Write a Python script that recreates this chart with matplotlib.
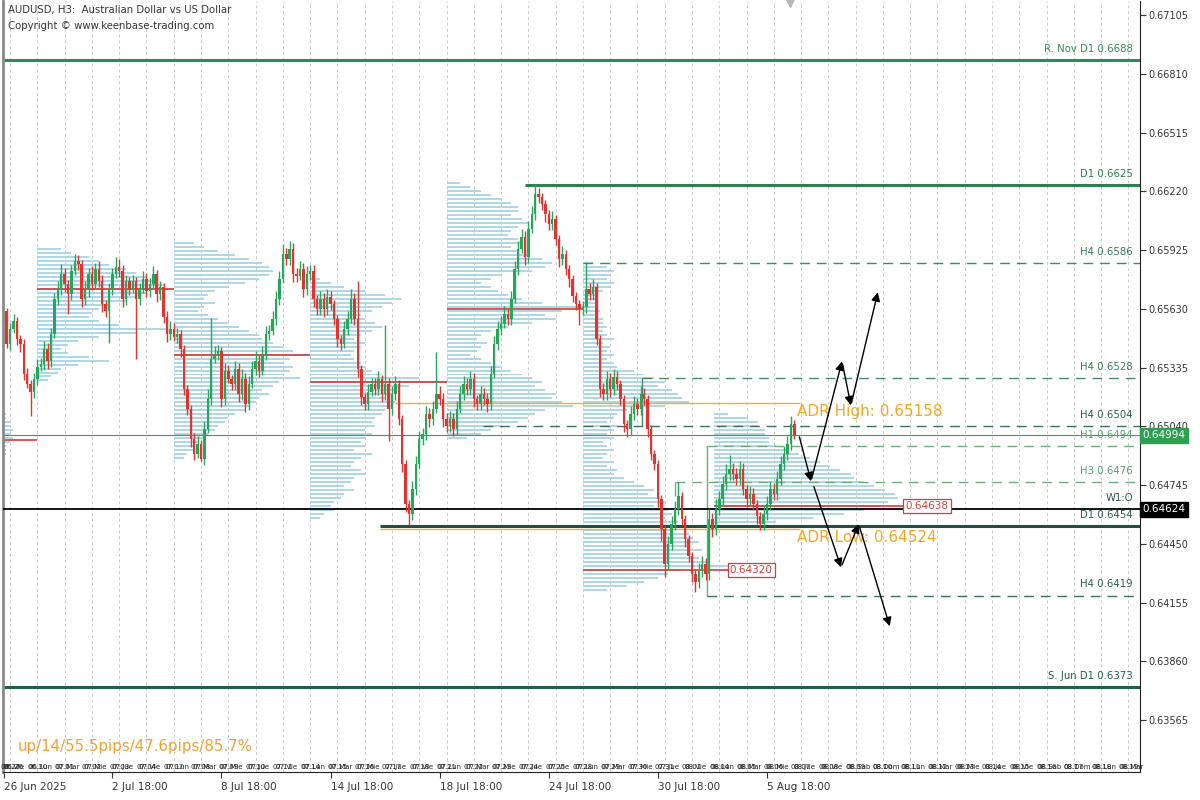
import numpy as np
import pandas as pd
import matplotlib
matplotlib.use('Agg')
import matplotlib.pyplot as plt
import matplotlib.transforms as mtransforms

# ---- candles (prices in pips, i.e. price * 10000), H3 bars from 26 Jun 21:00
first_open = 6561.7
closes = [
    6545.2, 6552.7, 6556.7, 6547.7, 6545.2, 6530.1, 6525.1, 6521.1, 6527.6, 6533.6,
    6535.1, 6542.7, 6536.6, 6550.2, 6567.8, 6572.8, 6580.3, 6575.3, 6570.3, 6581.8,
    6586.8, 6585.3, 6567.8, 6572.8, 6580.3, 6575.3, 6582.8, 6576.8, 6565.2, 6561.7,
    6572.8, 6580.3, 6583.8, 6581.8, 6567.8, 6576.8, 6572.8, 6576.8, 6567.8, 6572.8,
    6577.8, 6571.8, 6575.3, 6580.3, 6570.3, 6573.8, 6558.7, 6550.2, 6552.7, 6548.7,
    6550.2, 6542.7, 6522.6, 6512.5, 6497.5, 6489.9, 6495.0, 6487.4, 6502.5, 6517.6,
    6537.6, 6540.1, 6541.7, 6517.6, 6531.6, 6527.6, 6525.1, 6532.6, 6520.1, 6527.6,
    6515.0, 6525.1, 6532.6, 6536.6, 6531.6, 6540.1, 6550.2, 6551.7, 6557.7, 6567.8,
    6577.8, 6590.3, 6587.8, 6592.9, 6580.3, 6579.5, 6582.8, 6572.8, 6580.3, 6581.8,
    6567.8, 6562.7, 6567.8, 6562.7, 6568.8, 6565.2, 6557.7, 6547.7, 6545.2, 6552.7,
    6557.7, 6567.8, 6557.7, 6532.6, 6518.6, 6515.0, 6521.1, 6525.1, 6522.6, 6527.6,
    6520.1, 6525.1, 6512.5, 6520.1, 6525.1, 6507.5, 6484.9, 6464.8, 6459.8, 6472.4,
    6484.9, 6497.5, 6500.0, 6510.0, 6507.5, 6512.5, 6520.1, 6517.6, 6507.5, 6504.0,
    6507.5, 6502.5, 6512.5, 6520.1, 6525.1, 6522.6, 6527.6, 6517.6, 6515.0, 6520.1,
    6517.6, 6515.0, 6530.1, 6545.2, 6552.7, 6555.2, 6560.2, 6557.7, 6567.8, 6582.8,
    6592.9, 6598.9, 6588.8, 6602.9, 6610.4, 6620.5, 6619.0, 6615.4, 6610.4, 6605.4,
    6607.9, 6597.9, 6587.8, 6590.3, 6582.8, 6577.8, 6569.3, 6565.2, 6562.7, 6563.7,
    6572.8, 6570.3, 6573.8, 6547.7, 6522.6, 6520.1, 6527.6, 6522.6, 6528.6, 6525.1,
    6517.6, 6505.0, 6502.5, 6510.0, 6515.0, 6512.5, 6520.1, 6517.6, 6502.5, 6489.9,
    6484.9, 6467.4, 6452.3, 6434.7, 6444.8, 6454.8, 6462.3, 6468.9, 6457.3, 6447.3,
    6438.7, 6429.7, 6425.7, 6431.2, 6434.7, 6429.7, 6457.3, 6452.3, 6462.3, 6467.4,
    6474.9, 6479.9, 6482.4, 6479.9, 6477.4, 6482.4, 6472.4, 6467.4, 6469.9, 6464.8,
    6458.8, 6454.8, 6459.8, 6464.8, 6472.4, 6469.9, 6477.4, 6484.9, 6489.9, 6495.0,
    6505.0, 6499.4]
upper_wick = [
    1.5, 3, 3.5, 2, 2, 2.5, 3, 2, 3, 4,
    3, 4, 3, 3, 3, 4, 5, 3, 2, 3,
    3.5, 3, 2, 4, 3, 4, 3, 4, 3, 2,
    3, 3, 5, 4, 3, 3, 2, 3, 2, 3,
    4, 3, 3, 4, 2, 3, 2, 3, 4, 3,
    3, 2, 2, 2, 2, 3, 4, 2, 4, 5,
    21, 4, 3, 2, 4, 3, 2, 4, 3, 5,
    3, 4, 4, 5, 3, 4, 4, 3, 4, 4,
    4, 5, 3, 4, 3, 3, 4, 3, 4, 3,
    3, 2, 4, 3, 4, 3, 2, 2, 2, 4,
    4, 5, 3, 19, 2, 2, 4, 3, 3, 4,
    2, 30, 3, 4, 4, 2, 2, 2, 2, 4,
    4, 4, 3, 4, 3, 4, 21, 4, 3, 3,
    4, 3, 4, 4, 4, 3, 4, 3, 2, 4,
    3, 3, 4, 4, 4, 4, 4, 3, 4, 4,
    4, 4, 3, 4, 4, 5, 3, 2, 2, 2,
    4, 2, 2, 4, 2, 2, 2, 2, 2, 3,
    13.5, 3, 4, 2, 2, 3, 4, 3, 4, 3,
    2, 2, 2, 4, 4, 3, 4, 3, 2, 2,
    2, 2, 2, 2, 4, 4, 4, 7, 2, 2,
    2, 2, 2, 4, 4, 3, 5, 3, 5, 4,
    4, 5, 7, 3, 3, 4, 3, 2, 4, 3,
    2, 2, 4, 4, 4, 3, 4, 4, 4, 4,
    4, 2]
lower_wick = [
    2, 3, 2, 3, 4, 3, 2, 12, 3, 3,
    2, 3, 4, 3, 2, 3, 3, 4, 10, 3,
    2, 3, 4, 3, 4, 3, 2, 3, 4, 3,
    16, 3, 2, 3, 4, 3, 3, 2, 30, 3,
    2, 3, 3, 2, 4, 3, 3, 4, 3, 2,
    3, 4, 3, 3, 4, 3, 2, 1, 3, 2,
    3, 2, 3, 4, 3, 2, 3, 3, 4, 3,
    4, 3, 2, 3, 3, 2, 3, 3, 2, 3,
    3, 2, 3, 3, 4, 3, 2, 4, 3, 3,
    4, 3, 3, 4, 3, 3, 3, 4, 3, 2,
    3, 2, 3, 4, 4, 3, 3, 2, 3, 3,
    4, 3, 16, 3, 3, 3, 4, 4, 5.5, 3,
    3, 2, 3, 3, 4, 3, 2, 3, 4, 3,
    3, 3.5, 3, 2, 3, 3, 3, 4, 3, 3,
    3, 4, 3, 2, 3, 3, 2, 3, 3, 2,
    3, 2, 4, 3, 2, 3, 3, 3, 4, 3,
    3, 3, 4, 3, 3, 4, 3, 3, 7.7, 3,
    3, 3, 3, 3, 4, 3, 3, 4, 3, 3,
    3, 4, 4, 3, 3, 3, 3, 3, 4, 3,
    3, 4, 6, 6.5, 3, 3, 3, 3, 3, 4,
    3, 4, 5, 3, 3, 3, 3, 4, 3, 3,
    3, 3, 3, 3, 3, 3, 3, 4, 3, 3,
    4, 3, 3, 3, 3, 3, 3, 3, 3, 3,
    3, 2]

# ---- weekly volume profiles (2-pip rows, length in bars)
prof_start = [-1.08, 9, 49, 89, 129, 169, 207.5]
prof_top = [6510, 6593, 6596, 6578, 6626, 6586, 6510]
prof_vol = [
    [1, 1, 2, 2, 3, 2, 3, 2, 1, 1, 1],
    [7, 10, 15, 18, 21, 26, 29, 32, 35, 37, 40, 32, 29, 26, 21, 18, 16, 15, 18, 24,
     38, 29, 18, 12, 9, 7, 9, 15, 21, 12, 7, 6, 4, 3],
    [6, 9, 13, 18, 22, 26, 28, 29, 28, 25, 21, 16, 12, 10, 9, 12, 9, 7, 10, 13,
     16, 19, 22, 25, 26, 29, 32, 35, 40, 34, 32, 35, 34, 32, 37, 31, 29, 26, 28, 25,
     24, 22, 21, 18, 16, 15, 13, 12, 10, 9, 7, 6, 6, 4, 3],
    [3, 6, 10, 16, 22, 27, 24, 21, 18, 15, 16, 19, 21, 18, 15, 13, 16, 15, 13, 12,
     13, 15, 16, 18, 21, 32, 40, 29, 25, 24, 22, 25, 24, 22, 21, 19, 18, 19, 16, 18,
     16, 15, 16, 13, 18, 15, 13, 12, 15, 16, 13, 12, 10, 13, 10, 9, 7, 6, 7, 4, 3],
    [4, 7, 10, 13, 16, 19, 21, 21, 19, 22, 24, 21, 19, 18, 21, 22, 19, 21, 24, 28,
     31, 29, 25, 16, 13, 10, 13, 15, 18, 22, 28, 40, 34, 29, 32, 25, 18, 13, 10, 9,
     12, 10, 9, 7, 10, 13, 16, 19, 22, 25, 28, 26, 29, 32, 31, 34, 37, 29, 26, 24,
     21, 16, 13, 10, 6],
    [3, 7, 9, 8, 7, 9, 8, 6, 4, 4, 4, 4, 5, 4, 6, 6, 7, 6, 7, 9,
     6, 8, 7, 9, 7, 9, 10, 15, 18, 21, 24, 22, 26, 28, 29, 31, 24, 13, 10, 9,
     7, 10, 9, 7, 9, 6, 7, 9, 7, 6, 9, 7, 10, 9, 12, 15, 18, 21, 19, 22,
     24, 21, 25, 26, 24, 28, 29, 26, 31, 32, 34, 31, 35, 32, 34, 37, 43, 29, 25, 22,
     18, 13, 7],
    [4, 10, 13, 13, 15, 15, 16, 16, 18, 22, 25, 28, 31, 34, 37, 40, 41, 44, 47, 50,
     53, 54, 51, 49, 44, 38, 29, 18, 9],
]
poc_price = [6497, 6573, 6540, 6526, 6563, 6432, 6463.8]
poc_end = [9, 49, 89, 129, 169, 211.8, 263.3]

# ---- support / resistance levels
lvl_name = ['R. Nov D1 0.6688', 'D1 0.6625', 'H4 0.6586', 'H4 0.6528', 'H4 0.6504',
            'H1 0.6494', 'H3 0.6476', 'D1 0.6454', 'H4 0.6419', 'S. Jun D1 0.6373']
lvl_price = [0.6688, 0.6625, 0.6586, 0.6528, 0.6504, 0.6494, 0.6476, 0.6454, 0.6419, 0.6373]
lvl_start = [-1.1, 152, 169, 186.3, 139.7, 205.4, 196, 109.5, 205.4, -1.1]
lvl_dashed = [False, False, True, True, True, True, True, False, True, False]
lvl_color = ['#2e8b57', '#2e8050', '#3f8a62', '#4a8c68', '#3f6f62',
             '#6aae80', '#6aae80', '#1f4f45', '#3f6f62', '#1f5f4c']
lvl_text_color = ['#2e8b57', '#2e7d4f', '#2e7d4f', '#3a7d5a', '#2f5d50',
                  '#5aa070', '#5a9e70', '#2f5d50', '#2e5d4f', '#1e5e4e']
lvl_width = [2.2, 2.2, 1.0, 1.0, 1.0, 1.0, 1.0, 2.2, 1.0, 2.2]

bid = 0.64994
week_open = 0.64624
adr_high = 0.65158
adr_low = 0.64524

bull_x = [232.3, 235.9, 245.0, 247.6, 255.5]
bull_y = [0.65000, 0.64764, 0.65366, 0.65145, 0.65713]
bear_x = [236.5, 244.7, 249.9, 259.0]
bear_y = [0.64750, 0.64332, 0.64548, 0.64036]

major_pos = [-0.9, 31, 63, 95, 127, 159, 191, 223]
major_lbl = ['26 Jun 2025', '2 Jul 18:00', '8 Jul 18:00', '14 Jul 18:00', '18 Jul 18:00',
             '24 Jul 18:00', '30 Jul 18:00', '5 Aug 18:00']
price_ticks = [0.67105, 0.66810, 0.66515, 0.66220, 0.65925, 0.65630, 0.65335,
               0.65040, 0.64745, 0.64450, 0.64155, 0.63860, 0.63565]
es_days = ['Lun', 'Mar', 'Mie', 'Jue', 'Vie', 'Sab', 'Dom']
day_list = list(pd.bdate_range('2025-06-27', '2025-08-06')) + list(pd.date_range('2025-08-07', periods=13))

GREEN = '#26a65b'
RED = '#e5322d'

fig = plt.figure(figsize=(12, 8), dpi=100)
ax = fig.add_axes([3 / 1200, 28 / 800, 1137 / 1200, 771.5 / 800])
ax.set_xlim(-1.085, 332.4)
ax.set_ylim(0.63304, 0.67178)

# daily grid
for k in range(len(day_list)):
    ax.axvline(1 + 8 * k, color='#c8c8c8', lw=0.7, ls=(0, (3, 3)), zorder=0)

# volume profiles
for s, top, vol in zip(prof_start, prof_top, prof_vol):
    lv = (top - 2 * np.arange(len(vol))) / 1e4
    ax.barh(lv, vol, left=s, height=0.0001, color='#add8e6', lw=0, zorder=1)
for s, e, p in zip(prof_start, poc_end, poc_price):
    ax.hlines(p / 1e4, s, e, color='#d43c3c', lw=1.2, zorder=2)

# levels
for name, p, s, d, c, tc, w in zip(lvl_name, lvl_price, lvl_start, lvl_dashed,
                                   lvl_color, lvl_text_color, lvl_width):
    ax.hlines(p, s, 332.4, color=c, lw=w, ls=(0, (7, 5)) if d else '-', zorder=2.5)
    ax.annotate(name, (330.3, p), xytext=(0, 4.5), textcoords='offset points',
                ha='right', va='bottom', fontsize=7.3, color=tc, zorder=6)
# level anchors
ax.vlines(205.4, 0.6419, 0.6494, color='#6aae80', lw=1, zorder=2.5)
ax.vlines(196, 0.6469, 0.6476, color='#6aae80', lw=1, zorder=2.5)
ax.vlines(186.3, 0.6504, 0.6528, color='#4a8c68', lw=1, zorder=2.5)

ax.axhline(bid, color='#3c9a5f', lw=0.8, zorder=2.5)
ax.axhline(week_open, color='black', lw=1.3, zorder=2.6)
ax.annotate('W1:O', (330.3, week_open), xytext=(0, 4.5), textcoords='offset points',
            ha='right', va='bottom', fontsize=7.3, color='#2f4f4f')

# ADR
ax.hlines(adr_high, 113.9, 232.6, color='#f2b134', lw=1, zorder=2.6)
ax.hlines(adr_low, 109.5, 232.6, color='#f2b134', lw=1, zorder=2.6)
ax.annotate('ADR High: 0.65158', (231.8, adr_high), xytext=(0, -1), textcoords='offset points',
            ha='left', va='top', fontsize=11, color='#f5a623', zorder=6)
ax.annotate('ADR Low: 0.64524', (231.8, adr_low), xytext=(0, -1), textcoords='offset points',
            ha='left', va='top', fontsize=11, color='#f5a623', zorder=6)

# candles
c = np.array(closes) / 1e4
o = np.concatenate([[first_open / 1e4], c[:-1]])
hi = np.maximum(o, c) + np.array(upper_wick) / 1e4
lo = np.minimum(o, c) - np.array(lower_wick) / 1e4
x = np.arange(len(c))
col = np.where(c >= o, GREEN, RED)
ax.vlines(x, lo, hi, colors=col, lw=1.0, zorder=3)
body = np.maximum(np.abs(c - o), 0.00003)
ax.bar(x, body, bottom=np.minimum(o, c), width=0.72, color=col, lw=0, zorder=3.2)

# POC labels
for s, p, txt in [(212.1, 6432, '0.64320'), (263.6, 6463.8, '0.64638')]:
    ax.text(s, p / 1e4, txt, fontsize=7.5, color='#d43c3c', ha='left', va='center', zorder=7,
            bbox=dict(boxstyle='square,pad=0.2', fc='white', ec='#d43c3c', lw=0.9))

# scenario arrows
for xs, ys in [(bull_x, bull_y), (bear_x, bear_y)]:
    for i in range(len(xs) - 1):
        ax.annotate('', xy=(xs[i + 1], ys[i + 1]), xytext=(xs[i], ys[i]), zorder=8,
                    arrowprops=dict(arrowstyle='-|>', color='black', lw=1,
                                    mutation_scale=13, shrinkA=2, shrinkB=0))

# axes styling
ax.spines['top'].set_visible(False)
ax.spines['left'].set_color('#8a8a8a')
ax.spines['left'].set_linewidth(2)
ax.spines['right'].set_color('#222222')
ax.spines['bottom'].set_color('#222222')
ax.yaxis.tick_right()
ax.set_yticks(price_ticks)
ax.set_yticklabels(['%.5f' % t for t in price_ticks])
ax.tick_params(axis='y', labelsize=7, length=4, colors='#333333', pad=2)
ax.set_xticks(major_pos)
ax.set_xticklabels(major_lbl)
for lbl in ax.get_xticklabels():
    lbl.set_ha('left')
ax.tick_params(axis='x', labelsize=7.5, length=4, colors='#333333', pad=3)

# price boxes on the right axis
tr = mtransforms.blended_transform_factory(ax.transAxes, ax.transData)
ax.text(1.002, bid, '%.5f' % bid, transform=tr, fontsize=7.5, color='white', va='center',
        ha='left', bbox=dict(boxstyle='square,pad=0.25', fc='#2e9e50', ec='#2e9e50'), clip_on=False)
ax.text(1.002, week_open, '%.5f' % week_open, transform=tr, fontsize=7.5, color='white',
        va='center', ha='left', bbox=dict(boxstyle='square,pad=0.25', fc='black', ec='black'),
        clip_on=False)

# daily date strip at the bottom (date and weekday drawn on top of each other, as in MT4)
trx = mtransforms.blended_transform_factory(ax.transData, ax.transAxes)
ax.text(-0.9, 0.0065, '06.26', transform=trx, fontsize=5, ha='left', va='center', color='#222222')
for k, d in enumerate(day_list):
    ax.text(1 + 8 * k, 0.0065, '%02d.%02d' % (d.month, d.day), transform=trx, fontsize=5,
            ha='center', va='center', color='#222222')
    ax.text(1 + 8 * k + 1.0, 0.0065, '%02d.%s' % (d.month, es_days[d.weekday()]), transform=trx,
            fontsize=5, ha='center', va='center', color='#222222')

# chart shift marker
ax.plot([229.7], [0.997], transform=trx, marker='v', color='#b8b8b8', ms=6, clip_on=False)

fig.text(8 / 1200, 1 - 10 / 800, 'AUDUSD, H3:  Australian Dollar vs US Dollar', fontsize=7.3,
         color='#333333', va='center', ha='left')
fig.text(8 / 1200, 1 - 26 / 800, 'Copyright \u00a9 www.keenbase-trading.com', fontsize=7.3,
         color='#333333', va='center', ha='left')
fig.text(18 / 1200, 1 - 747 / 800, 'up/14/55.5pips/47.6pips/85.7%', fontsize=10.8,
         color='#f5a030', va='center', ha='left')

fig.savefig('out.png', dpi=100)
